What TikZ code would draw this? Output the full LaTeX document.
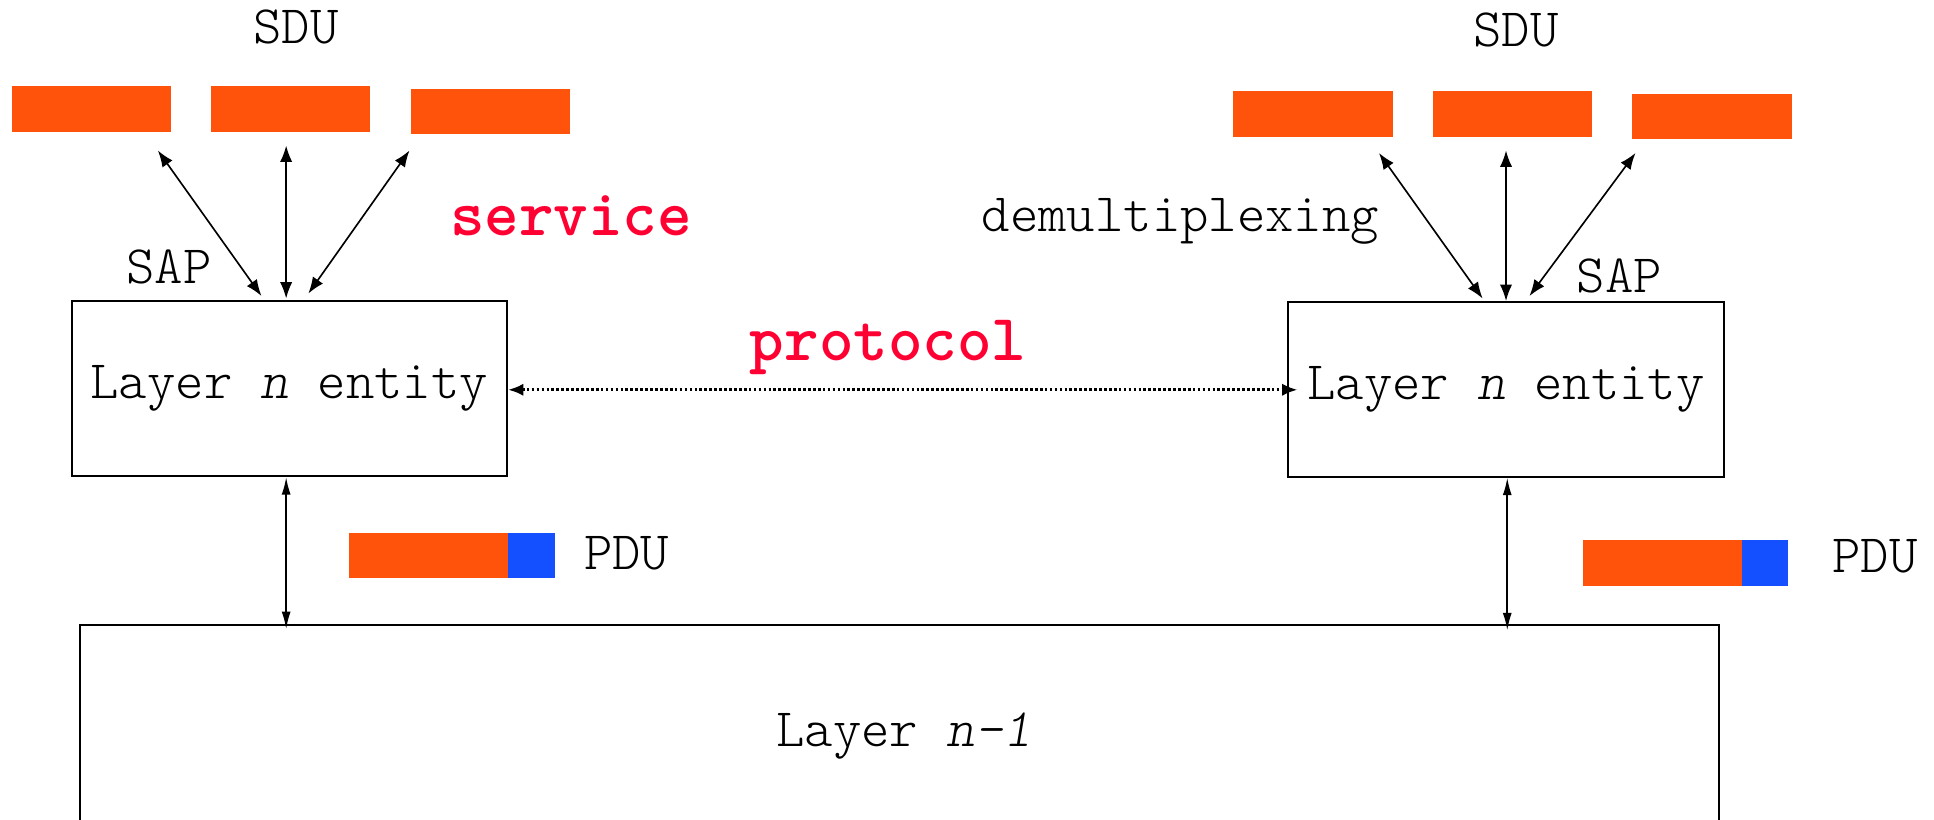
\documentclass[tikz,border=0pt]{standalone}
\usepackage{fontspec}
\newfontfamily\courfont{lmmonolt10-regular.otf}[ItalicFont=lmmonolt10-oblique.otf, BoldFont=lmmonolt10-bold.otf]
\usetikzlibrary{arrows.meta,calc}
\definecolor{sduorange}{HTML}{FF520A}
\definecolor{hdrblue}{HTML}{1450FF}
\definecolor{keyred}{HTML}{FF0033}
\begin{document}
\begin{tikzpicture}[x=0.6pt,y=-0.6pt,
  txt/.style={font=\courfont\fontsize{26.3pt}{30pt}\selectfont, inner sep=0pt, anchor=base},
  keyword/.style={font=\courfont\bfseries\fontsize{32pt}{36pt}\selectfont, text=keyred, inner sep=0pt, anchor=base},
  sdubox/.style={fill=sduorange, minimum width=77.4pt, minimum height=22.2pt, inner sep=0pt},
  hdrbox/.style={fill=hdrblue, minimum width=22.8pt, minimum height=22.2pt, inner sep=0pt},
  entity/.style={draw, line width=1pt, minimum width=211.8pt, minimum height=85.2pt, inner sep=0pt,
                 font=\courfont\fontsize{26.3pt}{30pt}\selectfont},
  dbl/.style={line width=0.8pt, {Latex[length=8pt,width=6pt]}-{Latex[length=8pt,width=6pt]}},
  dblthin/.style={line width=0.8pt, {Latex[length=8.5pt,width=4.4pt]}-{Latex[length=8.5pt,width=4.4pt]}},
  dots/.style={line width=1.5pt, dash pattern=on 1.3pt off 1.1pt, {Latex[length=7.5pt,width=6pt]}-{Latex[length=7.5pt,width=6pt]}}
]
\useasboundingbox (0,0) rectangle (1568,664);

% SDU boxes left
\node[sdubox] (sl1) at (74.5,88.5) {};
\node[sdubox] (sl2) at (235.5,88.5) {};
\node[sdubox] (sl3) at (398,90.5) {};
% SDU boxes right
\node[sdubox] (sr1) at (1064.5,92.5) {};
\node[sdubox] (sr2) at (1226,92.5) {};
\node[sdubox] (sr3) at (1388,94.5) {};

% entities
\node[entity] (el) at (234.5,315) {Layer \textit{n} entity};
\node[entity] (er) at (1221,315.5) {Layer \textit{n} entity};

% layer n-1 box (cut by the bottom edge)
\coordinate (lowtl) at (65,507);
\coordinate (lowbr) at (1394,700);
\draw[line width=1pt] (lowtl) rectangle (lowbr);
\node[txt] (lown) at (733,605) {Layer \textit{n-1}};

% labels
\node[txt] (sdul) at (240,35) {SDU};
\node[txt] (sdur) at (1229,38) {SDU};
\node[txt] (sapl) at (137,230) {SAP};
\node[txt] (sapr) at (1313,237) {SAP};
\node[txt] (demux) at (957,188) {demultiplexing};
\node[keyword] (serv) at (463,191) {service};
\node[keyword] (prot) at (720,292) {protocol};

% PDUs
\node[sdubox] (pl) at (347.5,450.5) {};
\node[hdrbox] (plh) at (431,450.5) {};
\node[txt] (pdul) at (508,462) {PDU};
\node[sdubox] (pr) at (1348,456.5) {};
\node[hdrbox] (prh) at (1431,456.5) {};
\node[txt] (pdur) at (1520,464) {PDU};

% arrow end points
\coordinate (al1) at (128,122);
\coordinate (al2) at (232,118);
\coordinate (al3) at (332,122);
\coordinate (bl1) at (212,240);
\coordinate (bl2) at (232,242);
\coordinate (bl3) at (250,238);
\coordinate (ar1) at (1118,124);
\coordinate (ar2) at (1221,122);
\coordinate (ar3) at (1326,124);
\coordinate (br1) at (1202,242);
\coordinate (br2) at (1221,244);
\coordinate (br3) at (1240,240);
\coordinate (dl) at (232,510);
\coordinate (dr) at (1222,511);
\coordinate (pe) at (1052,316);

\draw[dbl] (al1) -- (bl1);
\draw[dbl] (al2) -- (bl2);
\draw[dbl] (al3) -- (bl3);
\draw[dbl] (ar1) -- (br1);
\draw[dbl] (ar2) -- (br2);
\draw[dbl] (ar3) -- (br3);

\draw[dblthin] (el.south -| dl) -- (dl);
\draw[dblthin] (er.south -| dr) -- (dr);

\draw[dots] (el.east |- pe) -- (pe);
\end{tikzpicture}
\end{document}
